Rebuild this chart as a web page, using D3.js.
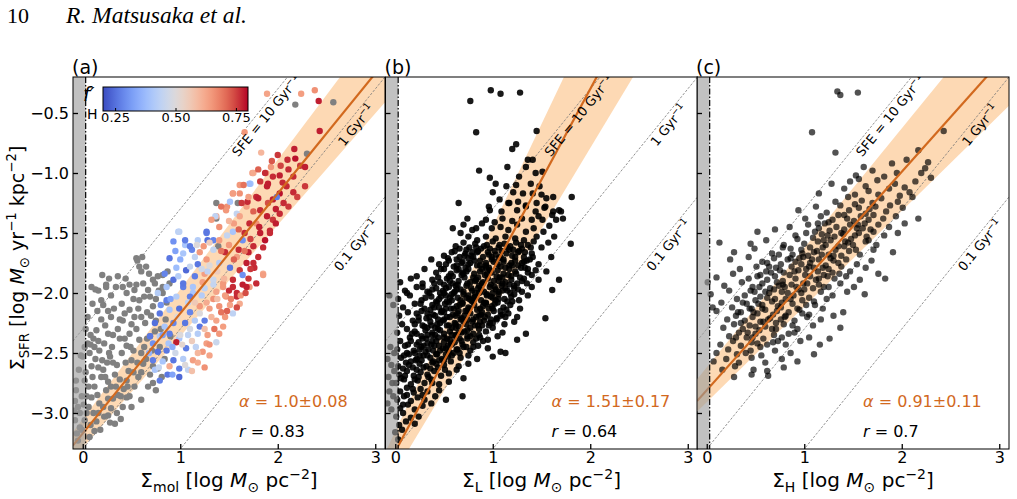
<!DOCTYPE html>
<html>
<head>
<meta charset="utf-8">
<script src="https://cdn.jsdelivr.net/npm/d3@7"></script>
<style>
  body { margin: 0; background: #fff; }
  svg { display: block; }
</style>
</head>
<body>
<svg id="fig" width="1017" height="499"></svg>
<script>
// ---- chart values ----
const panels = ["(a)", "(b)", "(c)"];
const xLabelSub = ["mol", "L", "H"];
const xTicks = [0, 1, 2, 3];
const yTicks = [-3.0, -2.5, -2.0, -1.5, -1.0, -0.5];
const xDomain = [-0.1, 3.1];
const yDomain = [-3.3, -0.2];
const fitSlope = [1.0, 1.51, 0.91];
const fitIntercept = [-3.17, -3.32, -2.81];
const bandUpper = [[1.08, -3.05], [1.707, -3.153], [0.996, -2.62]];   // [slope, intercept]
const bandLower = [[0.929, -3.29], [1.349, -3.49], [0.797, -2.91]];
const alphaLabels = ["1.0±0.08", "1.51±0.17", "0.91±0.11"];
const rLabels = ["0.83", "0.64", "0.7"];
const sfeOffsets = [-2.3, -3.3, -4.3];
const sfeNames = ["SFE = 10 Gyr", "1 Gyr", "0.1 Gyr"];
const sfeLabelX = [1.82, 2.74, 2.74];
const detectionLimit = 0.03;
const cbarDomain = [0.2, 0.8];
const cbarTicks = [0.25, 0.5, 0.75];

// panel (a): points without f'_H (grey)
const greyA = [
  [-0.07,-2.81],[-0.05,-2.95],[-0.08,-3.06],[-0.03,-3.0],[-0.07,-2.73],[-0.06,-3.17],[-0.01,-2.86],[-0.04,-2.64],
  [-0.02,-2.52],[-0.08,-2.9],[-0.03,-3.12],[-0.05,-3.23],[-0.09,-2.98],[0.0,-2.53],[0.02,-2.73],[0.04,-2.86],
  [0.02,-3.06],[-0.01,-3.14],[0.07,-3.2],[0.11,-3.0],[0.05,-2.42],[0.09,-2.61],[0.12,-2.78],[0.17,-2.92],
  [0.1,-2.09],[0.14,-2.31],[0.17,-2.48],[0.21,-2.64],[0.24,-2.81],[0.22,-3.03],[0.29,-2.96],[0.33,-3.09],
  [0.28,-3.08],[0.18,-3.14],[0.06,-2.95],[0.08,-3.1],[0.14,-3.07],[0.03,-2.66],[0.07,-2.5],[0.13,-2.55],
  [0.19,-2.7],[0.26,-2.88],[0.15,-2.85],[0.11,-2.38],[0.03,-2.3],[0.2,-1.85],[0.13,-1.97],[0.24,-1.95],
  [0.34,-1.95],[0.36,-1.86],[0.29,-2.02],[0.41,-1.95],[0.24,-1.93],[0.16,-1.98],[0.21,-2.1],[0.29,-2.2],
  [0.26,-2.34],[0.28,-2.53],[0.33,-2.68],[0.36,-2.85],[0.41,-2.95],[0.45,-2.87],[0.45,-2.0],[0.4,-2.09],
  [0.41,-2.23],[0.38,-2.38],[0.4,-2.5],[0.45,-2.73],[0.48,-2.86],[0.55,-1.71],[0.58,-1.78],[0.6,-1.82],
  [0.56,-1.73],[0.53,-1.975],[0.55,-1.93],[0.62,-1.92],[0.68,-1.84],[0.72,-1.89],[0.69,-2.03],[0.67,-1.975],
  [0.74,-1.92],[0.77,-1.86],[0.82,-1.85],[0.82,-1.95],[0.82,-2.0],[0.89,-1.92],[0.87,-1.82],[0.48,-2.14],
  [0.58,-2.06],[0.72,-2.11],[0.53,-2.2],[0.64,-2.25],[0.75,-2.23],[0.48,-2.34],[0.58,-2.39],[0.69,-2.36],
  [0.79,-2.45],[0.5,-2.56],[0.62,-2.59],[0.72,-2.61],[0.81,-2.7],[0.57,-2.7],[0.67,-2.78],[0.75,-2.81],
  [0.6,-2.89],[0.72,-2.75],[0.45,-2.44],[0.35,-2.6],[0.52,-2.48],[0.63,-2.45],[0.55,-2.3],[0.66,-2.16],
  [0.47,-2.65],[0.53,-2.78],[0.42,-2.8],[0.3,-2.45],[0.22,-2.42],[0.19,-2.22],[0.32,-2.13],[0.36,-2.3],
  [0.26,-2.74],[0.38,-2.72],[0.5,-2.95],[0.31,-2.88],[0.09,-2.87],[0.25,-2.58],[0.44,-2.58],[0.6,-2.5],
  [0.05,-2.2],[0.08,-2.35],[0.02,-2.45],[0.12,-2.45],[0.16,-2.4],[0.2,-2.56],[0.27,-2.5],[0.31,-2.58],
  [0.23,-2.7],[0.29,-2.78],[0.34,-2.78],[0.39,-2.86],[0.46,-2.78],[0.52,-2.66],[0.56,-2.58],[0.6,-2.66],
  [0.65,-2.55],[0.69,-2.68],[0.77,-2.63],[0.84,-2.55],[0.66,-2.38],[0.71,-2.48],[0.74,-2.32],[0.8,-2.3],
  [0.85,-2.22],[0.6,-2.2],[0.5,-2.26],[0.43,-2.17],[0.38,-2.22],[0.26,-2.15],[0.15,-2.15],[0.23,-2.27],
  [0.31,-2.35],[0.43,-2.38],[0.49,-2.45],[0.57,-2.13],[0.63,-2.03],[0.52,-2.05],[0.44,-1.88],[0.48,-1.93],
  [0.65,-1.78],[0.61,-1.7],[0.78,-1.98],[0.75,-2.05],[0.7,-2.19],[0.12,-3.15],[0.16,-3.0],[0.21,-2.95],
  [0.35,-3.0],[0.39,-3.05],[0.26,-3.02],[0.04,-3.0],[0.1,-2.7],[0.16,-2.62],[0.06,-2.78],[0.01,-2.93],
  [0.08,-2.43],[0.19,-2.06],[0.27,-1.88],[0.09,-1.95],
  [1.37,-1.38],[1.59,-1.25],[1.39,-1.61],[2.18,-0.43],[2.57,-0.41],[2.3,-0.84],[1.37,-1.25],[0.86,-2.08],[0.9,-2.36]
];

// panel (a): points coloured by f'_H  [x, y, f'_H]
const colorA = [
  [1.89,-0.34,0.63],[2.24,-0.34,0.64],[2.38,-0.31,0.66],[2.42,-0.40,0.78],[1.66,-0.66,0.65],[1.83,-0.83,0.6],
  [2.43,-0.65,0.78],[2.17,-0.80,0.78],[2.10,-0.89,0.77],[2.18,-0.88,0.79],[2.23,-0.94,0.76],[2.28,-0.95,0.78],
  [2.03,-0.94,0.75],[2.11,-0.97,0.77],[1.74,-1.0,0.64],[1.88,-1.0,0.66],[1.95,-1.03,0.77],[2.02,-1.02,0.78],
  [2.16,-1.03,0.77],[2.28,-1.11,0.76],[1.93,-0.95,0.65],[1.82,-1.07,0.76],[1.89,-1.11,0.78],[2.09,-1.11,0.77],
  [2.02,-1.17,0.79],[2.16,-1.16,0.77],[1.54,-1.17,0.66],[1.72,-1.09,0.4],[1.61,-1.10,0.65],[1.78,-1.2,0.77],
  [1.95,-1.22,0.78],[2.11,-1.28,0.76],[1.68,-1.28,0.64],[1.82,-1.31,0.77],[1.89,-1.36,0.78],[2.02,-1.34,0.77],
  [1.99,-1.2,0.27],[1.48,-1.28,0.66],[1.37,-1.36,0.63],[1.58,-1.34,0.45],[1.63,-1.25,0.76],[1.78,-1.42,0.66],
  [1.92,-1.5,0.77],[1.82,-1.5,0.78],[1.95,-1.39,0.76],[0.98,-1.49,0.42],[1.36,-1.36,0.44],[1.27,-1.5,0.27],
  [1.34,-1.56,0.28],[1.48,-1.52,0.45],[1.24,-1.61,0.65],[0.93,-1.57,0.3],[1.12,-1.64,0.28],[1.05,-1.6,0.4],
  [1.75,-1.0,0.62],[1.87,-1.0,0.77],[1.9,-1.09,0.78],[1.71,-1.09,0.38],[1.54,-1.17,0.64],[1.61,-1.17,0.66],
  [1.69,-1.24,0.77],[1.8,-1.21,0.78],[1.51,-1.24,0.4],[1.47,-1.31,0.65],[1.32,-1.39,0.64],[1.40,-1.45,0.66],
  [1.61,-1.36,0.63],[1.71,-1.42,0.77],[1.81,-1.45,0.78],[1.92,-1.48,0.77],[1.87,-1.56,0.79],[1.75,-1.61,0.77],
  [1.64,-1.56,0.3],[1.54,-1.49,0.4],[1.40,-1.56,0.64],[1.27,-1.49,0.26],[1.18,-1.56,0.42],[1.28,-1.56,0.25],
  [1.10,-1.61,0.27],[1.20,-1.66,0.65],[1.34,-1.64,0.45],[1.46,-1.66,0.77],[1.58,-1.70,0.64],[1.68,-1.75,0.78],
  [1.76,-1.79,0.77],[1.85,-1.84,0.62],[1.61,-1.81,0.76],[1.51,-1.79,0.26],[1.40,-1.75,0.42],[1.27,-1.72,0.65],
  [1.15,-1.70,0.44],[1.03,-1.67,0.4],[0.99,-1.49,0.44],[1.05,-1.56,0.27],[0.89,-1.71,0.26],[0.96,-1.79,0.38],
  [1.06,-1.81,0.24],[1.15,-1.86,0.27],[1.25,-1.84,0.64],[1.34,-1.89,0.46],[1.44,-1.95,0.65],[1.54,-1.89,0.77],
  [1.64,-1.85,0.3],[1.71,-1.95,0.64],[1.58,-2.0,0.77],[1.47,-2.03,0.66],[1.37,-1.99,0.63],[1.25,-1.96,0.44],
  [1.13,-2.0,0.4],[1.03,-1.95,0.27],[0.93,-1.89,0.25],[0.84,-1.84,0.28],[0.86,-1.95,0.4],[0.77,-2.0,0.42],
  [1.03,-1.92,0.26],[1.13,-1.95,0.4],[1.23,-1.91,0.64],[1.34,-1.93,0.45],[1.44,-1.92,0.65],[1.54,-1.95,0.77],
  [1.64,-1.93,0.78],[1.58,-2.03,0.77],[1.46,-2.02,0.64],[1.34,-2.05,0.66],[1.22,-2.02,0.42],[1.10,-2.03,0.27],
  [0.96,-2.03,0.42],[0.86,-2.06,0.27],[0.79,-2.17,0.26],[0.89,-2.14,0.4],[0.99,-2.13,0.25],[1.10,-2.16,0.28],
  [1.20,-2.11,0.65],[1.30,-2.13,0.64],[1.40,-2.11,0.66],[1.51,-2.10,0.63],[1.61,-2.09,0.62],[1.54,-2.17,0.44],
  [1.46,-2.2,0.65],[1.37,-2.23,0.63],[1.25,-2.23,0.27],[1.15,-2.23,0.42],[1.05,-2.25,0.26],[0.93,-2.25,0.28],
  [0.84,-2.28,0.4],[0.74,-2.25,0.25],[0.69,-2.36,0.26],[0.79,-2.36,0.42],[0.89,-2.34,0.27],[0.99,-2.38,0.4],
  [1.08,-2.35,0.44],[1.18,-2.34,0.42],[1.28,-2.35,0.64],[1.40,-2.34,0.65],[1.37,-2.41,0.46],[1.27,-2.42,0.64],
  [1.16,-2.45,0.44],[1.06,-2.46,0.27],[0.96,-2.41,0.78],[0.86,-2.48,0.26],[0.77,-2.49,0.25],[0.72,-2.56,0.27],
  [0.82,-2.57,0.4],[0.93,-2.56,0.26],[1.03,-2.55,0.42],[1.13,-2.56,0.64],[1.23,-2.49,0.65],[1.30,-2.52,0.63],
  [0.89,-2.61,0.62],[0.99,-2.63,0.27],[1.08,-2.64,0.44],[0.74,-2.64,0.4],[0.87,-2.68,0.26],[0.99,-2.7,0.24],
  [0.79,-2.73,0.27],[1.68,-1.95,0.78],[1.75,-1.75,0.77],[1.85,-1.85,0.64],[1.70,-1.88,0.76],[1.78,-1.92,0.77],
  [1.50,-1.6,0.65],[1.60,-1.64,0.77],[1.70,-1.66,0.78],[1.80,-1.7,0.77],[1.55,-1.42,0.64],[1.66,-1.5,0.77],
  [2.06,-1.25,0.77],[1.98,-1.3,0.78],[2.05,-1.08,0.77],[1.7,-1.2,0.64],[1.28,-1.82,0.44],[1.18,-1.76,0.26],
  [0.98,-1.86,0.42],[1.08,-2.08,0.44],[1.2,-2.28,0.26],[1.44,-2.28,0.64],[1.5,-1.98,0.77],[1.62,-2.02,0.65],
  [0.88,-2.42,0.4],[0.95,-2.5,0.47],[1.0,-2.35,0.5],[1.12,-2.4,0.55],[1.18,-2.5,0.6],[1.1,-2.3,0.48],
  [1.25,-2.3,0.58],[1.32,-2.2,0.6],[1.2,-2.17,0.5],[1.15,-2.08,0.56],[1.27,-2.08,0.62],[1.38,-2.05,0.58],
  [1.42,-2.16,0.7],[1.52,-2.05,0.68],[1.45,-1.88,0.6],[1.38,-1.82,0.55],[1.3,-1.77,0.5],[1.22,-1.8,0.47],
  [1.1,-1.78,0.45],[1.0,-1.72,0.35],[0.95,-1.65,0.33],[1.17,-1.6,0.5],[1.3,-1.58,0.55],[1.42,-1.65,0.7],
  [1.55,-1.72,0.72],[1.66,-1.65,0.7],[1.5,-1.4,0.6],[1.42,-1.28,0.7],[1.6,-1.47,0.72],[1.72,-1.55,0.75],
  [1.85,-1.62,0.77],[1.9,-1.25,0.74],[1.75,-1.32,0.72],[1.65,-1.1,0.7],[1.8,-0.97,0.72],[2.0,-0.85,0.76],
  [1.94,-0.9,0.73],[2.2,-1.2,0.75],[1.98,-1.42,0.78],[0.82,-2.35,0.32],[0.92,-2.45,0.35],[1.02,-2.43,0.52],
  [0.97,-2.2,0.5],[0.9,-2.05,0.33],[0.8,-2.1,0.3],[0.72,-2.42,0.3],[0.68,-2.5,0.36],[0.78,-2.62,0.45],
  [0.92,-2.68,0.33],[1.05,-2.6,0.5],[1.12,-2.65,0.58],[1.18,-2.58,0.62],[1.25,-2.62,0.66],[1.35,-2.3,0.7],
  [1.3,-2.43,0.66],[1.48,-2.15,0.72],[1.58,-2.12,0.74],[1.67,-2.0,0.74],[1.72,-1.8,0.76]
];

// panel (b)
const pointsB = [
  [0.98,-0.31],[1.08,-0.34],[1.28,-0.33],[0.77,-0.40],[0.83,-0.66],[1.45,-0.65],[1.20,-0.80],[1.24,-0.76],
  [1.15,-0.95],[0.86,-0.98],[1.41,-0.89],[0.97,-1.04],[0.65,-1.25],[0.74,-1.38],[0.59,-1.46],[1.81,-1.20],
  [1.80,-1.59],[0.37,-1.72],
  [1.36,-0.89],[1.34,-0.95],[1.44,-1.0],[1.51,-0.99],[1.27,-1.03],[1.03,-1.09],[1.14,-1.11],[1.24,-1.1],
  [1.39,-1.09],[1.48,-1.11],[1.0,-1.16],[1.21,-1.16],[1.31,-1.17],[1.41,-1.17],[1.5,-1.18],[1.55,-1.21],
  [1.62,-1.2],[1.07,-1.22],[1.17,-1.25],[1.26,-1.24],[1.34,-1.28],[1.45,-1.25],[1.53,-1.29],[0.97,-1.31],
  [1.09,-1.32],[1.62,-1.32],[1.7,-1.32],[1.72,-1.38],[1.65,-1.39],[0.83,-1.46],[0.93,-1.39],
  [0.96,-1.28],[1.16,-1.25],[1.25,-1.31],[1.34,-1.27],[1.44,-1.32],[1.54,-1.28],[1.61,-1.35],[1.68,-1.31],
  [1.1,-1.38],[1.3,-1.38],[1.4,-1.39],[1.51,-1.39],[0.7,-1.43],[0.79,-1.475],[0.89,-1.42],[0.99,-1.46],
  [1.08,-1.45],[1.16,-1.475],[1.25,-1.43],[1.34,-1.49],[1.42,-1.46],[1.52,-1.49],[1.63,-1.53],[0.93,-1.53],
  [1.03,-1.545],[1.13,-1.53],[1.23,-1.545],[1.32,-1.56],[0.84,-1.56],[0.75,-1.53],
  [1.02,-1.41],[1.2,-1.4],[1.47,-1.36],[1.58,-1.44],[0.67,-1.5],[1.45,-1.53],[1.57,-1.58],[1.6,-1.7],
  [1.55,-1.82],[0.3,-1.8],[0.22,-1.86],[0.12,-2.0],[0.28,-1.95],
  [0.62,-1.61],[0.7,-1.58],[0.76,-1.62],[0.82,-1.59],[0.88,-1.63],[0.94,-1.6],[1.0,-1.57],[1.06,-1.62],
  [1.12,-1.59],[1.18,-1.61],[1.24,-1.58],[1.3,-1.63],[1.36,-1.6],[1.42,-1.57],[1.5,-1.62],
  [0.5,-1.69],[0.58,-1.66],[0.66,-1.7],[0.72,-1.67],[0.78,-1.69],[0.84,-1.66],[0.9,-1.7],[0.96,-1.68],
  [1.02,-1.65],[1.08,-1.7],[1.14,-1.67],[1.2,-1.69],[1.26,-1.66],[1.32,-1.7],[1.4,-1.67],
  [0.45,-1.76],[0.55,-1.73],[0.63,-1.77],[0.69,-1.74],[0.75,-1.76],[0.81,-1.73],[0.87,-1.77],[0.93,-1.75],
  [0.99,-1.72],[1.05,-1.76],[1.11,-1.74],[1.17,-1.77],[1.23,-1.73],[1.3,-1.75],[1.38,-1.72],[1.47,-1.76],
  [0.42,-1.83],[0.5,-1.8],[0.57,-1.84],[0.63,-1.81],[0.69,-1.83],[0.75,-1.8],[0.81,-1.84],[0.87,-1.82],
  [0.93,-1.79],[0.99,-1.83],[1.05,-1.81],[1.11,-1.84],[1.17,-1.8],[1.23,-1.82],[1.29,-1.79],[1.36,-1.83],[1.44,-1.81],
  [0.05,-1.91],[0.16,-1.88],[0.28,-1.92],[0.38,-1.89],[0.46,-1.91],[0.53,-1.88],[0.59,-1.92],[0.65,-1.9],
  [0.71,-1.87],[0.77,-1.91],[0.83,-1.89],[0.89,-1.92],[0.95,-1.88],[1.01,-1.9],[1.07,-1.87],[1.13,-1.91],
  [1.19,-1.89],[1.25,-1.92],[1.32,-1.88],[1.47,-1.89],[1.68,-1.89],
  [0.1,-1.98],[0.22,-1.95],[0.33,-1.99],[0.42,-1.96],[0.49,-1.98],[0.55,-1.95],[0.61,-1.99],[0.67,-1.97],
  [0.73,-1.94],[0.79,-1.98],[0.85,-1.96],[0.91,-1.99],[0.97,-1.95],[1.03,-1.97],[1.09,-1.94],[1.15,-1.98],
  [1.22,-1.96],[1.3,-1.99],[1.4,-1.95],[1.61,-1.975],
  [0.03,-2.05],[0.15,-2.02],[0.27,-2.06],[0.37,-2.03],[0.45,-2.05],[0.52,-2.02],[0.58,-2.06],[0.64,-2.04],
  [0.7,-2.01],[0.76,-2.05],[0.82,-2.03],[0.88,-2.06],[0.94,-2.02],[1.0,-2.04],[1.06,-2.01],[1.12,-2.05],
  [1.19,-2.03],[1.27,-2.06],[1.36,-2.02],
  [0.08,-2.12],[0.2,-2.09],[0.3,-2.13],[0.38,-2.1],[0.45,-2.12],[0.51,-2.09],[0.57,-2.13],[0.63,-2.11],
  [0.69,-2.08],[0.75,-2.12],[0.81,-2.1],[0.87,-2.13],[0.93,-2.09],[0.99,-2.11],[1.05,-2.08],[1.11,-2.12],
  [1.18,-2.1],[1.28,-2.13],[1.54,-2.21],
  [0.04,-2.19],[0.13,-2.16],[0.24,-2.2],[0.33,-2.17],[0.41,-2.19],[0.47,-2.16],[0.53,-2.2],[0.59,-2.18],
  [0.65,-2.15],[0.71,-2.19],[0.77,-2.17],[0.83,-2.2],[0.89,-2.16],[0.95,-2.18],[1.01,-2.15],[1.08,-2.19],
  [1.16,-2.17],[1.25,-2.2],
  [0.07,-2.26],[0.18,-2.23],[0.28,-2.27],[0.36,-2.24],[0.43,-2.26],[0.49,-2.23],[0.55,-2.27],[0.61,-2.25],
  [0.67,-2.22],[0.73,-2.26],[0.79,-2.24],[0.85,-2.27],[0.91,-2.23],[0.97,-2.25],[1.04,-2.22],[1.12,-2.26],[1.22,-2.24],
  [0.02,-2.33],[0.12,-2.3],[0.22,-2.34],[0.31,-2.31],[0.38,-2.33],[0.44,-2.3],[0.5,-2.34],[0.56,-2.32],
  [0.62,-2.29],[0.68,-2.33],[0.74,-2.31],[0.8,-2.34],[0.86,-2.3],[0.93,-2.32],[1.0,-2.29],[1.1,-2.33],
  [1.25,-2.39],[1.34,-2.34],
  [0.05,-2.4],[0.15,-2.37],[0.24,-2.41],[0.32,-2.38],[0.38,-2.4],[0.44,-2.37],[0.5,-2.41],[0.56,-2.39],
  [0.62,-2.36],[0.68,-2.4],[0.74,-2.38],[0.8,-2.41],[0.87,-2.37],[0.95,-2.39],[1.05,-2.36],[1.08,-2.49],
  [0.02,-2.47],[0.1,-2.44],[0.19,-2.48],[0.27,-2.45],[0.34,-2.47],[0.4,-2.44],[0.46,-2.48],[0.52,-2.46],
  [0.58,-2.43],[0.64,-2.47],[0.7,-2.45],[0.77,-2.48],[0.85,-2.44],[0.95,-2.46],[1.13,-2.5],
  [0.06,-2.54],[0.14,-2.51],[0.22,-2.55],[0.29,-2.52],[0.36,-2.54],[0.42,-2.51],[0.48,-2.55],[0.54,-2.53],
  [0.6,-2.5],[0.67,-2.54],[0.75,-2.52],[0.84,-2.55],[1.0,-2.53],
  [0.03,-2.61],[0.11,-2.58],[0.18,-2.62],[0.25,-2.59],[0.32,-2.61],[0.38,-2.58],[0.44,-2.62],[0.5,-2.6],
  [0.57,-2.57],[0.65,-2.61],[0.75,-2.59],
  [0.04,-2.68],[0.12,-2.65],[0.19,-2.69],[0.26,-2.66],[0.33,-2.68],[0.4,-2.65],[0.47,-2.69],[0.55,-2.67],[0.63,-2.64],
  [0.01,-2.75],[0.09,-2.72],[0.16,-2.76],[0.23,-2.73],[0.3,-2.75],[0.37,-2.72],[0.45,-2.76],[0.55,-2.74],[0.7,-2.71],
  [0.05,-2.82],[0.12,-2.79],[0.19,-2.83],[0.26,-2.8],[0.33,-2.82],[0.45,-2.81],[0.52,-2.89],
  [0.02,-2.89],[0.09,-2.86],[0.16,-2.9],[0.23,-2.87],[0.3,-2.89],[0.41,-2.86],[0.69,-2.86],
  [0.05,-2.96],[0.13,-2.93],[0.2,-2.97],[0.28,-2.94],[0.37,-2.92],[0.01,-3.03],[0.08,-3.0],[0.16,-3.04],
  [0.24,-3.03],[0.04,-3.1],[0.11,-3.07],[0.2,-3.09],[0.0,-3.16],[0.07,-3.14],[0.03,-3.22],
  [0.73,-1.64],[0.85,-1.65],[0.97,-1.63],[1.09,-1.65],[1.21,-1.64],[1.33,-1.66],
  [0.63,-1.72],[0.75,-1.71],[0.87,-1.73],[0.99,-1.7],[1.11,-1.72],[1.23,-1.7],[1.35,-1.73],
  [0.6,-1.78],[0.72,-1.79],[0.84,-1.77],[0.96,-1.79],[1.08,-1.78],[1.2,-1.77],[1.33,-1.79],
  [0.55,-1.86],[0.68,-1.85],[0.8,-1.87],[0.92,-1.85],[1.04,-1.86],[1.16,-1.85],[1.28,-1.87],
  [0.5,-1.93],[0.62,-1.94],[0.74,-1.92],[0.86,-1.94],[0.98,-1.93],[1.1,-1.92],[1.22,-1.94],
  [0.46,-2.0],[0.58,-2.01],[0.7,-1.99],[0.82,-2.0],[0.94,-2.01],[1.06,-1.99],[1.18,-2.0],
  [0.42,-2.07],[0.55,-2.08],[0.67,-2.06],[0.79,-2.07],[0.91,-2.08],[1.03,-2.06],[1.15,-2.07],
  [0.36,-2.14],[0.48,-2.15],[0.6,-2.13],[0.72,-2.15],[0.84,-2.14],[0.96,-2.13],[1.08,-2.15],
  [0.32,-2.21],[0.44,-2.22],[0.56,-2.2],[0.68,-2.21],[0.8,-2.22],[0.92,-2.2],[1.04,-2.21],
  [0.3,-2.28],[0.41,-2.29],[0.53,-2.27],[0.65,-2.28],[0.77,-2.29],[0.89,-2.27],
  [0.27,-2.36],[0.38,-2.35],[0.5,-2.37],[0.62,-2.35],[0.74,-2.36],[0.86,-2.35],
  [0.22,-2.43],[0.33,-2.42],[0.45,-2.44],[0.57,-2.42],[0.69,-2.43],
  [0.2,-2.5],[0.31,-2.49],[0.43,-2.51],[0.55,-2.49],[0.66,-2.5],
  [0.16,-2.57],[0.27,-2.56],[0.39,-2.57],[0.5,-2.56],
  [0.66,-1.63],[0.79,-1.66],[0.91,-1.61],[1.03,-1.68],[1.15,-1.62],[1.27,-1.65],[1.39,-1.62],
  [0.54,-1.71],[0.68,-1.75],[0.8,-1.7],[0.93,-1.77],[1.06,-1.71],[1.19,-1.75],[1.32,-1.74],
  [0.47,-1.8],[0.59,-1.86],[0.73,-1.82],[0.85,-1.87],[0.97,-1.81],[1.1,-1.87],[1.24,-1.84],[1.4,-1.85],
  [0.4,-1.92],[0.52,-1.96],[0.64,-1.93],[0.78,-1.96],[0.9,-1.91],[1.02,-1.95],[1.17,-1.93],[1.3,-1.9],
  [0.35,-2.0],[0.47,-2.03],[0.6,-2.0],[0.73,-2.04],[0.86,-2.0],[0.98,-2.03],[1.1,-1.98],[1.22,-2.01],
  [0.26,-2.09],[0.4,-2.12],[0.53,-2.07],[0.66,-2.1],[0.78,-2.06],[0.9,-2.11],[1.02,-2.09],[1.14,-2.14],
  [0.22,-2.17],[0.35,-2.2],[0.5,-2.16],[0.62,-2.19],[0.74,-2.15],[0.86,-2.19],[0.98,-2.22],[1.1,-2.18],
  [0.2,-2.26],[0.33,-2.29],[0.46,-2.25],[0.58,-2.29],[0.7,-2.24],[0.82,-2.27],[0.96,-2.27],
  [0.17,-2.34],[0.28,-2.38],[0.41,-2.35],[0.53,-2.38],[0.65,-2.33],[0.77,-2.36],[0.9,-2.4],
  [0.13,-2.43],[0.25,-2.47],[0.37,-2.43],[0.49,-2.46],[0.61,-2.41],[0.73,-2.45],
  [0.09,-2.52],[0.21,-2.56],[0.33,-2.52],[0.45,-2.56],[0.58,-2.52],
  [0.08,-2.63],[0.22,-2.64],[0.36,-2.63],[0.51,-2.64],[0.06,-2.71],[0.2,-2.72],[0.34,-2.7],[0.12,-2.85],[0.28,-2.85],
  [0.61,-1.65],[0.71,-1.69],[0.83,-1.62],[0.95,-1.66],[1.07,-1.6],[1.17,-1.64],[1.29,-1.6],[1.41,-1.7],
  [0.52,-1.76],[0.65,-1.8],[0.77,-1.75],[0.89,-1.8],[1.01,-1.74],[1.13,-1.79],[1.26,-1.77],[1.36,-1.8],
  [0.44,-1.87],[0.56,-1.9],[0.7,-1.84],[0.82,-1.9],[0.94,-1.84],[1.06,-1.9],[1.19,-1.86],[1.35,-1.92],
  [0.38,-1.97],[0.5,-2.0],[0.63,-1.97],[0.75,-2.02],[0.88,-1.97],[1.0,-2.0],[1.13,-1.96],[1.26,-1.97],
  [0.31,-2.04],[0.43,-2.08],[0.56,-2.04],[0.69,-2.09],[0.81,-2.04],[0.93,-2.08],[1.06,-2.05],[1.2,-2.07],
  [0.27,-2.15],[0.39,-2.18],[0.52,-2.13],[0.64,-2.17],[0.76,-2.13],[0.88,-2.18],[1.0,-2.13],[1.13,-2.2],
  [0.24,-2.23],[0.37,-2.27],[0.5,-2.22],[0.62,-2.26],[0.74,-2.22],[0.87,-2.24],[1.0,-2.25],
  [0.2,-2.32],[0.33,-2.35],[0.46,-2.31],[0.58,-2.35],[0.71,-2.32],[0.83,-2.38],
  [0.16,-2.4],[0.29,-2.44],[0.42,-2.4],[0.54,-2.44],[0.66,-2.38],[0.8,-2.45],
  [0.12,-2.5],[0.25,-2.52],[0.39,-2.48],[0.52,-2.51],[0.63,-2.47],
  [0.14,-2.6],[0.29,-2.62],[0.42,-2.59],[0.1,-2.69],[0.24,-2.7],[0.38,-2.75],[0.18,-2.8],[0.08,-2.93],
  [-0.06,-2.02],[-0.02,-2.1],[-0.08,-2.55],[-0.04,-2.6],[-0.01,-2.65],[-0.07,-2.7],[-0.03,-2.75],[-0.06,-2.82],
  [-0.02,-2.86],[-0.08,-2.92],[-0.04,-2.97],[-0.01,-2.5],[-0.05,-2.45]
];

// panel (c)
const pointsC = [
  [1.34,-0.32],[1.37,-0.35],[1.55,-0.33],[1.08,-0.66],[1.32,-0.83],[2.43,-0.65],[2.17,-0.81],[2.27,-0.91],
  [0.13,-1.58],[2.17,-1.38],[1.83,-1.88],[0.01,-1.91],[0.06,-2.12],
  [1.61,-0.95],[1.9,-0.92],[2.05,-0.89],[2.24,-0.96],
  [1.53,-1.02],[1.7,-0.98],[1.82,-1.03],[2.2,-1.0],[2.3,-1.04],[1.95,-1.0],
  [1.28,-1.09],[1.47,-1.07],[1.63,-1.11],[1.75,-1.06],[1.93,-1.09],[2.03,-1.12],[2.14,-1.07],[1.56,-1.05],
  [1.15,-1.17],[1.41,-1.13],[1.52,-1.18],[1.66,-1.15],[1.76,-1.18],[1.87,-1.13],[2.08,-1.16],[1.98,-1.19],
  [1.32,-1.24],[1.45,-1.2],[1.59,-1.23],[1.7,-1.25],[1.79,-1.21],[1.96,-1.24],[2.11,-1.2],[1.52,-1.26],[1.88,-1.27],
  [0.94,-1.31],[1.12,-1.28],[1.23,-1.33],[1.37,-1.27],[1.46,-1.31],[1.56,-1.29],[1.63,-1.34],[1.73,-1.28],
  [1.84,-1.32],[2.01,-1.29],[1.67,-1.3],[1.41,-1.35],
  [1.01,-1.38],[1.17,-1.36],[1.29,-1.39],[1.35,-1.35],[1.44,-1.38],[1.51,-1.4],[1.58,-1.36],[1.66,-1.39],
  [1.71,-1.35],[1.81,-1.38],[1.94,-1.36],[1.25,-1.41],[1.55,-1.43],
  [0.85,-1.45],[1.04,-1.43],[1.15,-1.46],[1.21,-1.42],[1.33,-1.45],[1.41,-1.47],[1.47,-1.43],[1.54,-1.46],
  [1.62,-1.42],[1.68,-1.47],[1.76,-1.43],[1.87,-1.45],[2.03,-1.42],[1.11,-1.49],[1.38,-1.5],
  [0.52,-1.49],[0.7,-1.47],[0.91,-1.52],[1.02,-1.5],[1.09,-1.54],[1.18,-1.51],[1.26,-1.48],[1.31,-1.53],
  [1.4,-1.51],[1.48,-1.55],[1.56,-1.5],[1.64,-1.53],[1.71,-1.49],[1.82,-1.52],[1.96,-1.5],[1.2,-1.56],[1.45,-1.58],
  [0.45,-1.59],[0.61,-1.56],[0.79,-1.6],[0.93,-1.55],[1.0,-1.59],[1.06,-1.62],[1.14,-1.57],[1.22,-1.6],
  [1.27,-1.56],[1.35,-1.61],[1.42,-1.57],[1.5,-1.6],[1.53,-1.64],[1.63,-1.57],[1.74,-1.6],[0.86,-1.63],[1.1,-1.66],
  [0.28,-1.66],[0.49,-1.63],[0.67,-1.67],[0.78,-1.62],[0.88,-1.68],[0.97,-1.64],[1.04,-1.69],[1.13,-1.65],
  [1.19,-1.62],[1.25,-1.68],[1.32,-1.64],[1.38,-1.69],[1.46,-1.65],[1.57,-1.68],[1.71,-1.64],[1.91,-1.66],
  [0.95,-1.71],[1.3,-1.73],
  [0.24,-1.72],[0.43,-1.7],[0.57,-1.74],[0.69,-1.71],[0.76,-1.76],[0.83,-1.72],[0.91,-1.74],[0.99,-1.7],
  [1.06,-1.75],[1.15,-1.72],[1.22,-1.77],[1.27,-1.71],[1.35,-1.75],[1.43,-1.72],[1.54,-1.76],[1.69,-1.73],
  [0.64,-1.78],[1.1,-1.79],
  [0.34,-1.8],[0.51,-1.78],[0.61,-1.82],[0.71,-1.79],[0.79,-1.83],[0.87,-1.78],[0.94,-1.81],[1.01,-1.85],
  [1.05,-1.78],[1.14,-1.82],[1.19,-1.79],[1.29,-1.83],[1.38,-1.78],[1.47,-1.82],[1.63,-1.79],[0.97,-1.76],[1.24,-1.86],
  [0.1,-1.87],[0.27,-1.84],[0.43,-1.88],[0.55,-1.85],[0.62,-1.89],[0.7,-1.86],[0.78,-1.9],[0.85,-1.85],
  [0.91,-1.88],[0.99,-1.92],[1.06,-1.86],[1.12,-1.89],[1.2,-1.85],[1.31,-1.88],[1.43,-1.86],[1.57,-1.89],
  [1.76,-1.84],[0.74,-1.94],
  [0.18,-1.94],[0.36,-1.91],[0.47,-1.95],[0.57,-1.92],[0.65,-1.96],[0.72,-1.91],[0.8,-1.95],[0.87,-1.93],
  [0.94,-1.97],[1.03,-1.92],[1.09,-1.96],[1.15,-1.93],[1.25,-1.95],[1.37,-1.92],[1.51,-1.95],[0.6,-1.99],[0.83,-2.0],
  [0.04,-2.01],[0.23,-1.98],[0.39,-2.02],[0.49,-1.99],[0.55,-2.03],[0.64,-2.0],[0.7,-2.05],[0.77,-1.99],
  [0.89,-2.02],[0.97,-2.0],[1.05,-2.04],[1.17,-1.99],[1.29,-2.02],[1.44,-1.99],[1.62,-2.01],[1.1,-2.07],
  [0.15,-2.08],[0.31,-2.05],[0.41,-2.09],[0.5,-2.06],[0.57,-2.1],[0.67,-2.07],[0.73,-2.11],[0.81,-2.05],
  [0.88,-2.09],[0.98,-2.06],[1.11,-2.1],[1.23,-2.05],[0.46,-2.13],[0.93,-2.13],
  [0.1,-2.15],[0.26,-2.12],[0.35,-2.16],[0.44,-2.13],[0.52,-2.17],[0.6,-2.14],[0.68,-2.18],[0.76,-2.12],
  [0.84,-2.16],[0.95,-2.14],[1.05,-2.18],[1.19,-2.13],[1.4,-2.16],[0.63,-2.22],
  [0.21,-2.22],[0.3,-2.19],[0.39,-2.23],[0.47,-2.2],[0.55,-2.24],[0.65,-2.21],[0.71,-2.25],[0.81,-2.19],
  [0.9,-2.23],[1.03,-2.2],[1.17,-2.22],[1.3,-2.19],[0.5,-2.28],
  [0.17,-2.29],[0.28,-2.26],[0.37,-2.3],[0.44,-2.27],[0.54,-2.31],[0.6,-2.28],[0.71,-2.3],[0.79,-2.26],
  [0.93,-2.3],[1.09,-2.27],[1.37,-2.29],[0.84,-2.34],
  [0.23,-2.36],[0.33,-2.33],[0.41,-2.37],[0.5,-2.34],[0.58,-2.38],[0.69,-2.35],[0.77,-2.37],[0.9,-2.33],
  [1.05,-2.37],[1.26,-2.38],[0.62,-2.43],
  [0.14,-2.43],[0.27,-2.4],[0.35,-2.44],[0.46,-2.41],[0.55,-2.45],[0.68,-2.41],[0.81,-2.43],[0.96,-2.4],
  [1.16,-2.43],[0.4,-2.5],
  [0.1,-2.5],[0.22,-2.47],[0.31,-2.51],[0.45,-2.48],[0.56,-2.52],[0.7,-2.48],[0.86,-2.5],[1.1,-2.51],
  [0.07,-2.57],[0.2,-2.55],[0.33,-2.58],[0.46,-2.54],[0.6,-2.58],[0.77,-2.55],[0.93,-2.57],
  [0.16,-2.64],[0.29,-2.61],[0.48,-2.64],[0.62,-2.65],[0.79,-2.62],
  [0.28,-2.7],[0.46,-2.68],[0.63,-2.69],
  [0.62,-1.75],[0.74,-1.68],[0.86,-1.71],[0.98,-1.67],[1.08,-1.72],[1.18,-1.68],[1.3,-1.69],[1.41,-1.61],
  [1.52,-1.52],[1.6,-1.46],[1.66,-1.56],[1.24,-1.52],[1.14,-1.42],
  [0.52,-1.86],[0.66,-1.83],[0.75,-1.81],[0.9,-1.82],[1.02,-1.8],[1.15,-1.88],[1.25,-1.8],[1.36,-1.84],
  [0.45,-1.98],[0.54,-1.95],[0.69,-1.97],[0.78,-1.93],[0.92,-1.95],[1.0,-1.97],[1.2,-1.95],
  [0.37,-2.08],[0.53,-2.09],[0.62,-2.04],[0.77,-2.08],[0.86,-2.05],[1.02,-2.1],
  [0.32,-2.16],[0.48,-2.16],[0.57,-2.13],[0.72,-2.15],[0.8,-2.2],[0.98,-2.17],
  [0.35,-2.25],[0.42,-2.33],[0.58,-2.24],[0.67,-2.3],[0.76,-2.22],[0.88,-2.27],
  [0.3,-2.37],[0.47,-2.37],[0.73,-2.4],[0.52,-2.42]
];

const coolwarmStops = ["#3b4cc0","#5977e3","#7b9ff9","#9ebeff","#c0d4f5","#dddcdc",
                       "#f2cbb7","#f7ac8e","#ee8468","#d65244","#b40426"];

// ---- layout ----
const font = "DejaVu Sans, sans-serif";
const panelLeft = [73, 385.5, 697], panelW = 312;
const plotTop = 77, plotBottom = 449;
const orange = "#d2691e", bandFill = "#fdd9b4";
const dotR = 3.2;

const svg = d3.select("#fig");
const defs = svg.append("defs");
const cmap = d3.scaleSequential(d3.interpolateRgbBasis(coolwarmStops)).domain(cbarDomain);

// text with sub/superscripts
function rich(sel, parts, size) {
  let off = 0;
  parts.forEach(([str, kind]) => {
    const small = kind.includes("sub") || kind.includes("sup");
    const target = kind.includes("sub") ? size * 0.24 : kind.includes("sup") ? -size * 0.4 : 0;
    const t = sel.append("tspan").text(str)
      .attr("font-size", small ? size * 0.7 : size)
      .attr("dy", target - off);
    if (kind.startsWith("i")) t.attr("font-style", "italic");
    off = target;
  });
}

// header
svg.append("text").attr("x", 7).attr("y", 23).attr("font-family", "Liberation Serif, serif")
  .attr("font-size", 22).text("10");
svg.append("text").attr("x", 66).attr("y", 23).attr("font-family", "Liberation Serif, serif")
  .attr("font-size", 23.5).attr("font-style", "italic").text("R. Matsusaka et al.");

panels.forEach((name, i) => {
  const x0 = panelLeft[i];
  const x = d3.scaleLinear().domain(xDomain).range([x0, x0 + panelW]);
  const y = d3.scaleLinear().domain(yDomain).range([plotBottom, plotTop]);
  const px = d => x(d), py = d => y(d);

  defs.append("clipPath").attr("id", "clip" + i).append("rect")
    .attr("x", x0).attr("y", plotTop).attr("width", panelW).attr("height", plotBottom - plotTop);
  const g = svg.append("g").attr("clip-path", `url(#clip${i})`);

  // fit uncertainty band
  const up = v => bandUpper[i][0] * v + bandUpper[i][1];
  const lo = v => bandLower[i][0] * v + bandLower[i][1];
  const bandPts = [[xDomain[0], up(xDomain[0])], [xDomain[1], up(xDomain[1])],
                   [xDomain[1], lo(xDomain[1])], [xDomain[0], lo(xDomain[0])]];
  g.append("path").attr("d", d3.line()(bandPts.map(p => [px(p[0]), py(p[1])])) + "Z")
    .attr("fill", bandFill);

  // constant-SFE lines
  sfeOffsets.forEach(o => {
    g.append("line")
      .attr("x1", px(xDomain[0])).attr("y1", py(xDomain[0] + o))
      .attr("x2", px(xDomain[1])).attr("y2", py(xDomain[1] + o))
      .attr("stroke", "#777").attr("stroke-width", 0.8).attr("stroke-dasharray", "2.5,1.6");
  });

  // points
  if (i === 0) {
    g.append("g").selectAll("circle").data(greyA).join("circle")
      .attr("cx", d => px(d[0])).attr("cy", d => py(d[1])).attr("r", dotR).attr("fill", "#808080");
    g.append("g").selectAll("circle").data(colorA).join("circle")
      .attr("cx", d => px(d[0])).attr("cy", d => py(d[1])).attr("r", dotR).attr("fill", d => cmap(d[2]));
  } else {
    const pts = i === 1 ? pointsB : pointsC;
    g.append("g").selectAll("circle").data(pts).join("circle")
      .attr("cx", d => px(d[0])).attr("cy", d => py(d[1])).attr("r", dotR)
      .attr("fill", "#000").attr("fill-opacity", i === 1 ? 0.9 : 0.68);
  }

  // best fit
  const fit = v => fitSlope[i] * v + fitIntercept[i];
  g.append("line")
    .attr("x1", px(xDomain[0])).attr("y1", py(fit(xDomain[0])))
    .attr("x2", px(xDomain[1])).attr("y2", py(fit(xDomain[1])))
    .attr("stroke", orange).attr("stroke-width", 2.2);

  // below-limit shading and limit line
  g.append("rect").attr("x", px(xDomain[0])).attr("y", plotTop)
    .attr("width", px(detectionLimit) - px(xDomain[0])).attr("height", plotBottom - plotTop)
    .attr("fill", "#9b9b9b").attr("fill-opacity", 0.62);
  g.append("line").attr("x1", px(detectionLimit)).attr("x2", px(detectionLimit))
    .attr("y1", plotTop).attr("y2", plotBottom)
    .attr("stroke", "#000").attr("stroke-width", 1.2).attr("stroke-dasharray", "6,2,1.5,2");

  // SFE labels along the lines
  const ang = Math.atan2(py(0) - py(1), px(1) - px(0)) * 180 / Math.PI;
  const rad = ang * Math.PI / 180;
  sfeNames.forEach((s, k) => {
    const lx = sfeLabelX[k];
    const cx = px(lx) + 8 * Math.sin(rad), cy = py(lx + sfeOffsets[k]) + 8 * Math.cos(rad);
    const t = g.append("text").attr("transform", `translate(${cx},${cy}) rotate(${-ang})`)
      .attr("y", 4.5).attr("text-anchor", "middle").attr("font-family", font);
    rich(t, [[s, "n"], ["−1", "sup"]], 13);
  });

  // annotations
  const ta = svg.append("text").attr("x", x0 + 166).attr("y", 407)
    .attr("font-family", font).attr("fill", orange);
  rich(ta, [["α", "i"], [" = " + alphaLabels[i], "n"]], 16);
  const tr = svg.append("text").attr("x", x0 + 166).attr("y", 437).attr("font-family", font);
  rich(tr, [["r", "i"], [" = " + rLabels[i], "n"]], 16);

  // frame
  svg.append("rect").attr("x", x0).attr("y", plotTop).attr("width", panelW)
    .attr("height", plotBottom - plotTop).attr("fill", "none").attr("stroke", "#000").attr("stroke-width", 1);

  // axes
  const ya = svg.append("g").attr("transform", `translate(${x0},0)`)
    .call(d3.axisLeft(y).tickValues(yTicks).tickSize(-5).tickPadding(4)
      .tickFormat(i === 0 ? d3.format(".1f") : () => ""));
  ya.select(".domain").remove();
  ya.attr("font-size", 16).attr("font-family", font);
  ya.selectAll("line").attr("stroke-width", 1.3);

  const xa = svg.append("g").attr("transform", `translate(0,${plotBottom})`)
    .call(d3.axisBottom(x).tickValues(xTicks).tickSize(-5).tickPadding(3).tickFormat(d3.format("d")));
  xa.select(".domain").remove();
  xa.attr("font-size", 16).attr("font-family", font);
  xa.selectAll("line").attr("stroke-width", 1.3);

  // panel tag and x title
  svg.append("text").attr("x", x0 - 1).attr("y", 74).attr("font-family", font)
    .attr("font-size", 19).text(name);
  const xt = svg.append("text").attr("x", x0 + panelW / 2).attr("y", 487)
    .attr("text-anchor", "middle").attr("font-family", font);
  rich(xt, [["Σ", "n"], [xLabelSub[i], "sub"], [" [log ", "n"], ["M", "i"], ["⊙", "sub"],
            [" pc", "n"], ["−2", "sup"], ["]", "n"]], 20);
});

// y title
const yt = svg.append("text").attr("transform", "translate(24,258) rotate(-90)")
  .attr("text-anchor", "middle").attr("font-family", font);
rich(yt, [["Σ", "n"], ["SFR", "sub"], [" [log ", "n"], ["M", "i"], ["⊙", "sub"], [" yr", "n"],
          ["−1", "sup"], [" kpc", "n"], ["−2", "sup"], ["]", "n"]], 19);

// colour bar
const cb = d3.scaleLinear().domain(cbarDomain).range([103, 248]);
const grad = defs.append("linearGradient").attr("id", "cw");
d3.range(0, 1.0001, 0.05).forEach(t => {
  grad.append("stop").attr("offset", t).attr("stop-color", cmap(cbarDomain[0] + t * (cbarDomain[1] - cbarDomain[0])));
});
svg.append("rect").attr("x", cb(cbarDomain[0])).attr("y", 87)
  .attr("width", cb(cbarDomain[1]) - cb(cbarDomain[0])).attr("height", 24)
  .attr("fill", "url(#cw)").attr("stroke", "#000").attr("stroke-width", 1);
const cba = svg.append("g").attr("transform", "translate(0,111)")
  .call(d3.axisBottom(cb).tickValues(cbarTicks).tickSize(-3).tickPadding(2).tickFormat(d3.format(".2f")));
cba.select(".domain").remove();
cba.attr("font-size", 13).attr("font-family", font);
svg.append("text").attr("x", 83).attr("y", 101).attr("font-family", font)
  .attr("font-size", 20).attr("font-style", "italic").text("f′");
svg.append("text").attr("x", 87).attr("y", 119).attr("font-family", font)
  .attr("font-size", 14).text("H");
</script>
</body>
</html>
